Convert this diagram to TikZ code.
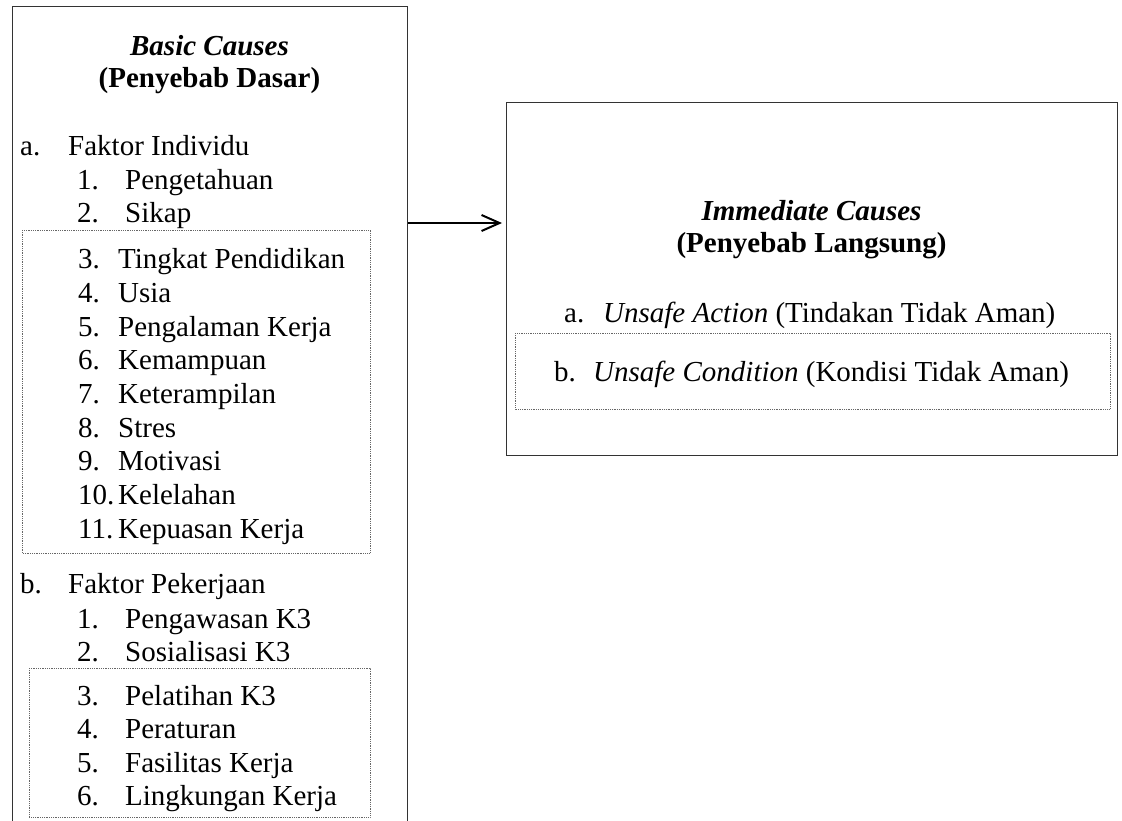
\documentclass[tikz,border=0pt]{standalone}
\usepackage{fontspec}
\setmainfont{Liberation Serif}
\usetikzlibrary{arrows.meta}
\tikzset{>={Straight Barb[length=18pt,width=16pt]},
  causebox/.style={draw=black!80, line width=1pt, inner sep=0pt},
  groupbox/.style={draw=black!60, densely dotted, line width=0.8pt},
  item/.style={anchor=base west, inner sep=0pt},
  head/.style={anchor=base, inner sep=0pt}}
\newcommand{\itemno}[2][48pt]{\makebox[#1][l]{#2}}

\begin{document}
\begin{tikzpicture}[x=1pt,y=-1pt,font=\fontsize{29}{34}\selectfont]
\clip (0,0) rectangle (1122,820);
% the two boxes
\node[causebox, anchor=north west, minimum width=395pt, minimum height=840pt] (basic) at (12,6) {};
\node[causebox, anchor=north west, minimum width=611pt, minimum height=353pt] (immediate) at (506,102) {};
\draw[groupbox] (22,230) rectangle (370,553);
\draw[groupbox] (29,668) rectangle (370,817);
\draw[groupbox] (515,333) rectangle (1110,409);

% basic causes
\node[head] (bchead) at (209.5,55) {\textbf{\textit{Basic Causes}}};
\node[head] (bcsub) at (209.5,87) {\textbf{(Penyebab Dasar)}};
\node[item] (ind) at (20,155) {\itemno{a.}Faktor Individu};
\node[item] (ind1) at (77,189) {\itemno{1.}Pengetahuan};
\node[item] (ind2) at (77,222) {\itemno{2.}Sikap};
\node[item] (ind3) at (78,268) {\itemno[40pt]{3.}Tingkat Pendidikan};
\node[item] (ind4) at (78,302) {\itemno[40pt]{4.}Usia};
\node[item] (ind5) at (78,336) {\itemno[40pt]{5.}Pengalaman Kerja};
\node[item] (ind6) at (78,369) {\itemno[40pt]{6.}Kemampuan};
\node[item] (ind7) at (78,403) {\itemno[40pt]{7.}Keterampilan};
\node[item] (ind8) at (78,437) {\itemno[40pt]{8.}Stres};
\node[item] (ind9) at (78,470) {\itemno[40pt]{9.}Motivasi};
\node[item] (ind10) at (78,504) {\itemno[40pt]{10.}Kelelahan};
\node[item] (ind11) at (78,538) {\itemno[40pt]{11.}Kepuasan Kerja};
\node[item] (job) at (20,593) {\itemno{b.}Faktor Pekerjaan};
\node[item] (job1) at (77,628) {\itemno{1.}Pengawasan K3};
\node[item] (job2) at (77,661) {\itemno{2.}Sosialisasi K3};
\node[item] (job3) at (77,705) {\itemno{3.}Pelatihan K3};
\node[item] (job4) at (77,738) {\itemno{4.}Peraturan};
\node[item] (job5) at (77,772) {\itemno{5.}Fasilitas Kerja};
\node[item] (job6) at (77,805) {\itemno{6.}Lingkungan Kerja};

% immediate causes
\node[head] (ichead) at (811.5,220) {\textbf{\textit{Immediate Causes}}};
\node[head] (icsub) at (811.5,252) {\textbf{(Penyebab Langsung)}};
\node[item] (act) at (564,322) {\itemno[39pt]{a.}\textit{Unsafe Action} (Tindakan Tidak Aman)};
\node[item] (cond) at (554,381) {\itemno[39pt]{b.}\textit{Unsafe Condition} (Kondisi Tidak Aman)};

\coordinate (aro) at (0,223);
\draw[->, line width=2pt] (basic.east |- aro) -- ([xshift=-4pt]immediate.west |- aro);
\end{tikzpicture}
\end{document}
